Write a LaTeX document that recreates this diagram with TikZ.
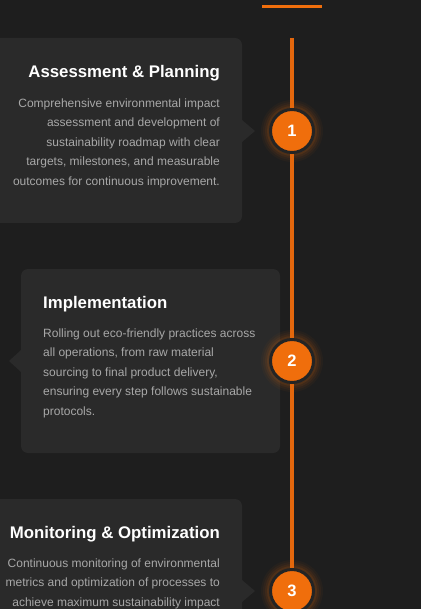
\documentclass[tikz,border=0pt]{standalone}
\usepackage{fontspec}
\setmainfont{Liberation Sans}
\definecolor{bg}{HTML}{1E1E1E}
\definecolor{card}{HTML}{2A2A2A}
\definecolor{orng}{HTML}{F06E0C}
\definecolor{lineor}{HTML}{E3670D}
\definecolor{ring}{HTML}{242424}
\definecolor{bodytxt}{HTML}{A8A8A8}
\begin{document}
\begin{tikzpicture}[x=1pt,y=-1pt,
  cardbox/.style={fill=card,rounded corners=7pt,draw=none,inner sep=0pt},
  title/.style={text=white,font=\bfseries\fontsize{16.8}{19}\selectfont,inner sep=0pt},
  bodyr/.style={text=bodytxt,font=\fontsize{12}{19.5}\selectfont,inner sep=0pt,align=right},
  bodyl/.style={text=bodytxt,font=\fontsize{12}{19.5}\selectfont,inner sep=0pt,align=left},
  stepnum/.style={circle,fill=orng,draw=ring,line width=3pt,minimum size=43pt,inner sep=0pt,text=white,font=\bfseries\fontsize{16.5}{18}\selectfont},
  pointer/.style={fill=card,draw=none}]
\useasboundingbox (0,0) rectangle (420,609);
\fill[bg] (-5,-5) rectangle (425,614);
\clip (0,0) rectangle (420,609);
% top bar
\coordinate (barL) at (262,7);
\coordinate (barR) at (322,7);
\draw[orng,line width=3pt] (barL) -- (barR);
% timeline
\coordinate (lineTop) at (292,38);
\coordinate (lineBot) at (292,620);
\draw[lineor,line width=3.4pt] (lineTop) -- (lineBot);
% cards
\node[cardbox,minimum width=262pt,minimum height=185pt] (card1) at (111,130.5) {};
\fill[pointer] (242,120) -- (255,131) -- (242,142) -- cycle;
\node[cardbox,minimum width=259pt,minimum height=184pt] (card2) at (150.5,361) {};
\fill[pointer] (21,350) -- (9,361) -- (21,372) -- cycle;
\node[cardbox,minimum width=262pt,minimum height=185pt] (card3) at (111,591.5) {};
\fill[pointer] (242,580) -- (255,591) -- (242,602) -- cycle;
% glows and circles
\foreach \cy/\n in {131/1,361/2,591/3}{
  \foreach \r/\o in {31/0.04,29/0.05,27/0.07,25/0.10}{
    \fill[orng,opacity=\o] (292,\cy) circle (\r pt);
  }
}
\node[stepnum] (s1) at (292,131) {1};
\node[stepnum] (s2) at (292,361) {2};
\node[stepnum] (s3) at (292,591) {3};
% texts card 1
\node[title,anchor=base east] (t1) at (220,78) {Assessment \& Planning};
\node[bodyr,anchor=north east] (b1) at (220,98.5) {Comprehensive environmental impact\\assessment and development of\\sustainability roadmap with clear\\targets, milestones, and measurable\\outcomes for continuous improvement.};
% texts card 2
\node[title,anchor=base west] (t2) at (43,308) {Implementation};
\node[bodyl,anchor=north west] (b2) at (43,328.5) {Rolling out eco-friendly practices across\\all operations, from raw material\\sourcing to final product delivery,\\ensuring every step follows sustainable\\protocols.};
% texts card 3
\node[title,anchor=base east] (t3) at (220,538) {Monitoring \& Optimization};
\node[bodyr,anchor=north east] (b3) at (220,558.5) {Continuous monitoring of environmental\\metrics and optimization of processes to\\achieve maximum sustainability impact};
\end{tikzpicture}
\end{document}
